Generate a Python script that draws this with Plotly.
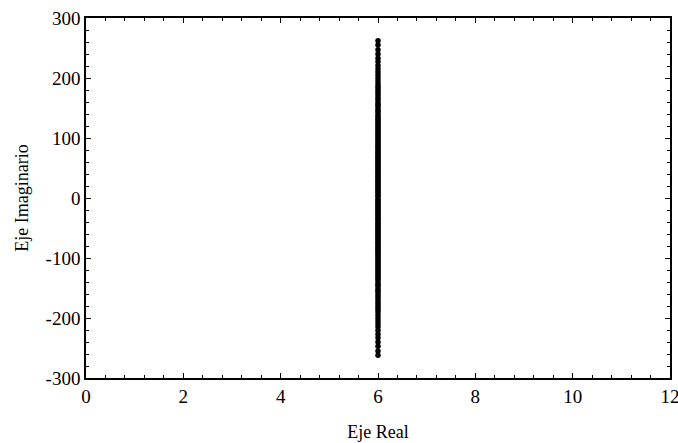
import plotly.graph_objects as go

x_ticks = [0, 2, 4, 6, 8, 10, 12]
y_ticks = [-300, -200, -100, 0, 100, 200, 300]
y_tick_labels = ["-300", "-200", "-100", "0", "100", "200", "300"]

real_part = 6
imag_pos = [262, 255, 247, 240, 233, 227, 221, 215, 210, 205, 200, 195, 190, 186, 182,
            178, 174, 170, 166, 162, 158, 155, 152, 148, 145, 142, 138, 135, 132, 129,
            126, 123, 120, 117, 114, 111, 108, 105, 102, 99, 96, 93, 90, 87, 85, 82, 79,
            76, 74, 71, 68, 66, 63, 60, 58, 55, 52, 50, 47, 44, 42, 39, 36, 34, 31, 28,
            26, 23, 20, 18, 15, 12, 10, 7, 4, 2]
imag_neg = [-2, -4, -7, -10, -12, -15, -18, -20, -23, -26, -28, -31, -34, -36, -39, -42,
            -44, -47, -50, -52, -55, -58, -60, -63, -66, -68, -71, -74, -76, -79, -82,
            -85, -87, -90, -93, -96, -99, -102, -105, -108, -111, -114, -117, -120, -123,
            -126, -129, -132, -135, -138, -142, -145, -148, -152, -155, -158, -162, -166,
            -170, -174, -178, -182, -186, -190, -195, -200, -205, -210, -215, -221, -227,
            -233, -240, -247, -255, -262]

imag_all = imag_pos + imag_neg
real_all = [real_part] * len(imag_all)

fig = go.Figure()
fig.add_trace(go.Scatter(
    x=real_all, y=imag_all, mode="markers",
    marker=dict(color="black", size=5.5),
    showlegend=False,
))

font_family = "Liberation Serif, Times New Roman, serif"

fig.update_layout(
    width=678, height=443,
    margin=dict(l=86, r=8, t=18, b=65),
    paper_bgcolor="white", plot_bgcolor="white",
    font=dict(family=font_family, size=19, color="black"),
)
fig.update_xaxes(
    range=[0, 12], tickvals=x_ticks, ticktext=[str(v) for v in x_ticks],
    automargin=False, ticklabeloverflow="allow",
    showgrid=False, zeroline=False,
    showline=True, linecolor="black", linewidth=1.5, mirror="ticks",
    ticks="inside", ticklen=5, tickwidth=1, tickcolor="black",
    minor=dict(ticks="inside", ticklen=3, tickwidth=1, tickcolor="black", dtick=0.4, showgrid=False),
    title=dict(text="Eje Real", font=dict(size=18), standoff=20),
    tickfont=dict(size=19),
)
fig.update_yaxes(
    range=[-300, 300], tickvals=y_ticks, ticktext=y_tick_labels,
    automargin=False, ticklabeloverflow="allow",
    showgrid=False, zeroline=False,
    showline=True, linecolor="black", linewidth=1.5, mirror="ticks",
    ticks="inside", ticklen=5, tickwidth=1, tickcolor="black",
    minor=dict(ticks="inside", ticklen=3, tickwidth=1, tickcolor="black", dtick=20, showgrid=False),
    title=dict(text="Eje Imaginario", font=dict(size=18), standoff=12),
    tickfont=dict(size=19),
)

fig.write_html("out.html")
